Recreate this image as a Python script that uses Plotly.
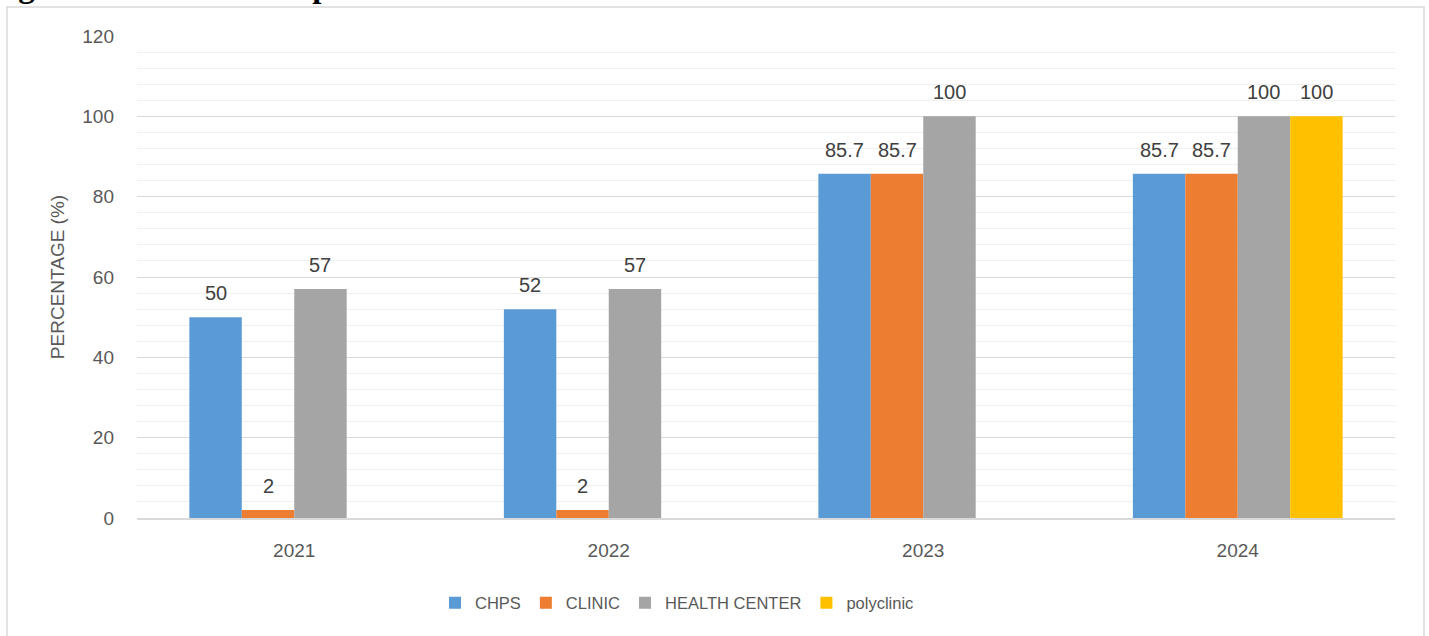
import plotly.graph_objects as go

years = ["2021", "2022", "2023", "2024"]
series_names = ["CHPS", "CLINIC", "HEALTH CENTER", "polyclinic"]
chps = [50, 52, 85.7, 85.7]
clinic = [2, 2, 85.7, 85.7]
health_center = [57, 57, 100, 100]
polyclinic = [None, None, None, 100]
colors = ["#5B9BD5", "#ED7D31", "#A5A5A5", "#FFC000"]

all_values = [chps, clinic, health_center, polyclinic]

W, H = 1429, 636
ML, MR, MT, MB = 137, 34, 36, 118
PW = W - ML - MR
PH = H - MT - MB
BARGAP = 0.333
bar_px = PW / len(years) * (1 - BARGAP) / len(series_names)

FONT = "Liberation Sans"
TXT = "#595959"

fig = go.Figure()
for name, vals, col in zip(series_names, all_values, colors):
    fig.add_trace(go.Bar(
        name=name, x=years, y=vals, marker_color=col,
        marker_line_width=0,
    ))

annotations = []
for i, vals in enumerate(all_values):
    for j, v in enumerate(vals):
        if v is None:
            continue
        annotations.append(dict(
            x=j, y=v, xref="x", yref="y",
            text=f"{v:g}", showarrow=False,
            xshift=round((i - 1.5) * bar_px, 1), yshift=11, yanchor="bottom",
            font=dict(family=FONT, size=20, color="#404040"),
        ))


def py2paper(py):
    return (H - MB - py) / PH


def px2paper(px):
    return (px - ML) / PW


# partially visible caption at the very top of the page
annotations.append(dict(
    x=px2paper(-13), y=py2paper(6), xref="paper", yref="paper",
    xanchor="left", yanchor="bottom", showarrow=False,
    text="<b>Figure 4: Number of Operational Health Facilities</b>",
    font=dict(family="Liberation Serif", size=33, color="#000000"),
))

fig.update_layout(
    width=W, height=H,
    margin=dict(l=ML, r=MR, t=MT, b=MB, autoexpand=False),
    paper_bgcolor="white", plot_bgcolor="white",
    barmode="group", bargap=BARGAP, bargroupgap=0,
    font=dict(family=FONT, color=TXT),
    showlegend=True,
    legend=dict(
        orientation="h", x=px2paper(435), xanchor="left",
        y=py2paper(603), yanchor="middle",
        font=dict(family=FONT, size=16.5, color=TXT),
        bgcolor="rgba(0,0,0,0)",
    ),
    annotations=annotations,
    shapes=[dict(
        type="rect", xref="paper", yref="paper",
        x0=px2paper(7), x1=px2paper(1424), y0=py2paper(645), y1=py2paper(7),
        line=dict(color="#d9d9d9", width=1.5), fillcolor="rgba(0,0,0,0)",
        layer="below",
    )],
)

fig.update_xaxes(
    type="category", range=[-0.5, len(years) - 0.5], autorange=False,
    automargin=False,
    showgrid=False, showline=True, linecolor="#d9d9d9", linewidth=1.5,
    ticks="", tickfont=dict(family=FONT, size=19, color=TXT),
    ticklabelstandoff=14,
)
fig.update_yaxes(
    range=[0, 120], autorange=False, dtick=20, tick0=0, automargin=False,
    showgrid=True, gridcolor="#d9d9d9", gridwidth=1.2,
    zeroline=False, showline=False, ticks="",
    tickfont=dict(family=FONT, size=19, color=TXT),
    ticklabelstandoff=22,
    minor=dict(dtick=4, showgrid=True, gridcolor="#f0f0f0", gridwidth=1),
    title=dict(text="PERCENTAGE (%)", font=dict(family=FONT, size=19, color=TXT),
               standoff=12),
)

fig.write_html("out.html", config={"displayModeBar": False},
               post_script="document.body.style.margin='0';")
